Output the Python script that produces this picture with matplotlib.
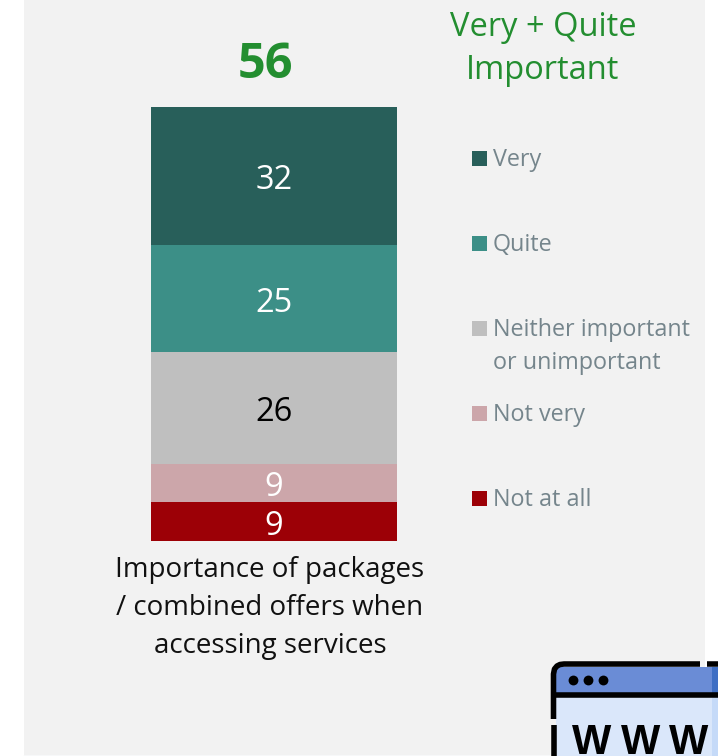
import matplotlib
matplotlib.use('Agg')
import matplotlib.pyplot as plt
from matplotlib.patches import Rectangle

W, H = 718, 756

categories = ['Very', 'Quite', 'Neither important\nor unimportant', 'Not very', 'Not at all']
values = [32, 25, 26, 9, 9]
colors = ['#285F5A', '#3C8F87', '#BFBFBF', '#CCA6AA', '#9C0006']
label_colors = ['white', 'white', 'black', 'white', 'white']
bar_name = 'Importance of packages\n/ combined offers when\naccessing services'
net_value = 56
net_title = 'Very + Quite\nImportant'

GREEN = '#238E30'
GREY_TEXT = '#75858C'

plt.rcParams['font.family'] = ['Open Sans', 'DejaVu Sans']

fig = plt.figure(figsize=(W / 100, H / 100), dpi=100, facecolor='white')

# overlay in pixel units, y pointing down
bg = fig.add_axes([0, 0, 1, 1])
bg.set_xlim(0, W)
bg.set_ylim(H, 0)
bg.axis('off')
bg.add_patch(Rectangle((24, 0), 681, 755, fc='#F2F2F2', ec='none'))
bg.plot([24, 705], [755.5, 755.5], color='#DADFE3', lw=1)

# stacked bar
ax = fig.add_axes([151 / W, 1 - 541 / H, 246 / W, 434 / H])
ax.patch.set_alpha(0)
ax.set_xlim(0, 1)
ax.set_ylim(0, sum(values))
ax.axis('off')
bottom = sum(values)
for val, col, lc in zip(values, colors, label_colors):
    bottom -= val
    ax.bar(0.5, val, width=1, bottom=bottom, color=col, linewidth=0)
    ax.annotate(str(val), (0.5, bottom + val / 2), xytext=(0, -0.7), textcoords='offset points',
                ha='center', va='center_baseline', color=lc, fontsize=23.5)

# header and axis label
bg.text(265, 65, str(net_value), ha='center', va='center', color=GREEN,
        fontsize=35, fontweight='bold')
bg.text(543, 49, net_title, ha='center', va='center', color=GREEN,
        fontsize=23.5, linespacing=1.43)
bg.text(270, 608, bar_name, ha='center', va='center', color='#111111',
        fontsize=20, linespacing=1.49)

# legend, evenly spaced markers; va='baseline' sits on the last line
for i, (name, col) in enumerate(zip(categories, colors)):
    y = 158.5 + 85 * i
    n_extra = name.count('\n')
    bg.add_patch(Rectangle((472, y - 7.5), 15, 15, fc=col, ec='none'))
    bg.text(493, y + 7.5 + 33 * n_extra, name, ha='left', va='baseline', color=GREY_TEXT,
            fontsize=16.8, linespacing=1.5)

# browser window icon, cut off by the figure edge
bg.add_patch(Rectangle((556, 667), 170, 95, fc='#DAE7FA', ec='none', zorder=3))
bg.add_patch(Rectangle((712, 694), 10, 70, fc='#C5DAF8', ec='none', zorder=3))
bg.add_patch(Rectangle((556, 667), 170, 27, fc='#6A8CD6', ec='none', zorder=3))
bg.add_patch(Rectangle((712, 667), 10, 27, fc='#3F6FC4', ec='none', zorder=3))
bg.plot([553.5, 553.5, 554.5, 557, 560, 564, 700], [719, 674, 669, 666, 664.5, 664, 664],
        color='black', lw=4, zorder=4, solid_capstyle='butt', solid_joinstyle='round')
bg.plot([553.5, 553.5], [725, 760], color='black', lw=4, zorder=4, solid_capstyle='butt')
bg.plot([707, 725], [664, 664], color='black', lw=4, zorder=4, solid_capstyle='butt')
bg.plot([553, 725], [694.5, 694.5], color='black', lw=4, zorder=4, solid_capstyle='butt')
bg.scatter([573, 588, 603], [679.5, 679.5, 679.5], s=50, color='black', zorder=5, linewidths=0)
for x in [572, 620.5, 669]:
    bg.text(x, 754.5, 'W', ha='left', va='baseline', color='black', fontsize=30,
            fontweight='bold', family=['Liberation Sans'], zorder=5)

fig.savefig('out.png', dpi=100, facecolor='white')
